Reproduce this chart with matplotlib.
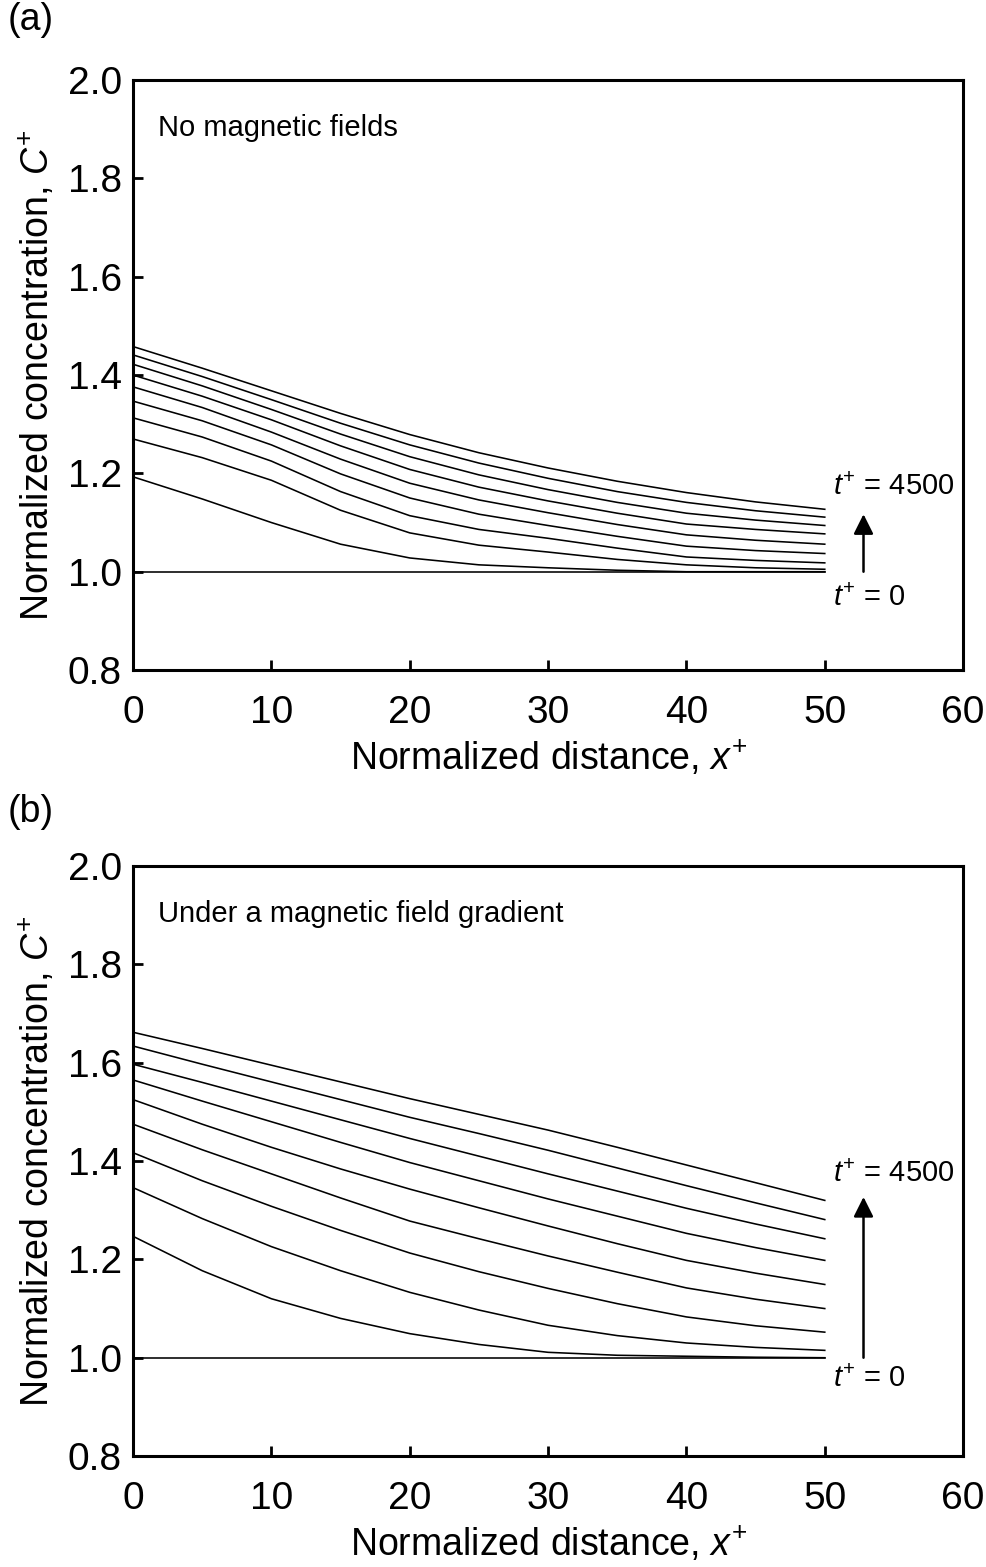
import numpy as np
import matplotlib
matplotlib.use("Agg")
import matplotlib.pyplot as plt

plt.rcParams['font.family'] = ['Liberation Sans', 'DejaVu Sans']
plt.rcParams['mathtext.fontset'] = 'custom'
plt.rcParams['mathtext.rm'] = 'Liberation Sans'
plt.rcParams['mathtext.it'] = 'Liberation Sans:italic'

# normalized time of each profile (t+ = 0 is the flat initial profile)
times = [0, 500, 1000, 1500, 2000, 2500, 3000, 3500, 4000, 4500]

# x+ positions where the profiles were read
x_pos = [0, 5, 10, 15, 20, 25, 30, 35, 40, 45, 50]

# (a) no magnetic fields, one row per time
conc_a = [
    [1.000, 1.000, 1.000, 1.000, 1.000, 1.000, 1.000, 1.000, 1.000, 1.000, 1.000],
    [1.193, 1.148, 1.100, 1.056, 1.028, 1.014, 1.008, 1.003, 1.000, 1.000, 1.000],
    [1.270, 1.232, 1.186, 1.125, 1.079, 1.054, 1.040, 1.025, 1.014, 1.008, 1.005],
    [1.313, 1.274, 1.225, 1.163, 1.114, 1.086, 1.068, 1.048, 1.030, 1.023, 1.018],
    [1.347, 1.307, 1.258, 1.199, 1.150, 1.117, 1.094, 1.072, 1.052, 1.043, 1.037],
    [1.376, 1.334, 1.284, 1.229, 1.180, 1.146, 1.120, 1.096, 1.075, 1.064, 1.056],
    [1.400, 1.357, 1.309, 1.256, 1.208, 1.172, 1.144, 1.119, 1.097, 1.086, 1.077],
    [1.422, 1.378, 1.330, 1.280, 1.234, 1.197, 1.167, 1.141, 1.119, 1.105, 1.094],
    [1.441, 1.397, 1.350, 1.302, 1.258, 1.221, 1.190, 1.163, 1.141, 1.124, 1.111],
    [1.458, 1.414, 1.368, 1.322, 1.279, 1.242, 1.211, 1.184, 1.161, 1.142, 1.127],
]

# (b) under a magnetic field gradient
conc_b = [
    [1.000, 1.000, 1.000, 1.000, 1.000, 1.000, 1.000, 1.000, 1.000, 1.000, 1.000],
    [1.247, 1.177, 1.120, 1.080, 1.049, 1.027, 1.011, 1.005, 1.003, 1.001, 1.000],
    [1.346, 1.283, 1.226, 1.177, 1.133, 1.097, 1.066, 1.045, 1.030, 1.021, 1.015],
    [1.417, 1.360, 1.308, 1.259, 1.213, 1.175, 1.141, 1.110, 1.083, 1.065, 1.052],
    [1.475, 1.423, 1.374, 1.325, 1.278, 1.242, 1.207, 1.174, 1.142, 1.119, 1.100],
    [1.525, 1.475, 1.428, 1.384, 1.343, 1.305, 1.268, 1.232, 1.198, 1.172, 1.149],
    [1.565, 1.522, 1.480, 1.438, 1.397, 1.360, 1.323, 1.288, 1.253, 1.224, 1.198],
    [1.597, 1.560, 1.522, 1.484, 1.446, 1.410, 1.374, 1.339, 1.304, 1.272, 1.242],
    [1.634, 1.597, 1.561, 1.525, 1.489, 1.456, 1.422, 1.386, 1.350, 1.315, 1.281],
    [1.662, 1.629, 1.595, 1.561, 1.527, 1.495, 1.463, 1.428, 1.392, 1.356, 1.320],
]

panels = [
    ("(a)", "No magnetic fields", conc_a, 0.5724, 0.987),
    ("(b)", "Under a magnetic field gradient", conc_b, 0.0708, 0.482),
]
# arrow (tail, tip) and label heights per panel, data units
arrow_y = [(1.0, 1.117), (1.0, 1.327)]
label_y = [(1.173, 0.946), (1.374, 0.957)]

fig = plt.figure(figsize=(9.87, 15.67), dpi=100)

for i, (tag, note, conc, bot, tag_y) in enumerate(panels):
    ax = fig.add_axes([0.1348, bot, 0.841, 0.3765])
    for row in conc:
        ax.plot(x_pos, row, color='black', lw=1.15)

    ax.set_xlim(0, 60)
    ax.set_ylim(0.8, 2.0)
    ax.set_xticks(np.arange(0, 61, 10))
    yt = np.arange(0.8, 2.01, 0.2)
    ax.set_yticks(yt)
    ax.set_yticklabels(["%.1f" % v for v in yt])
    ax.tick_params(direction='in', length=7, width=2, labelsize=28)
    ax.tick_params(axis='x', pad=18)
    ax.tick_params(axis='y', pad=8)
    for s in ax.spines.values():
        s.set_linewidth(2.2)

    ax.set_xlabel(r"Normalized distance, $\mathit{x}^{+}$", fontsize=27, labelpad=6)
    ax.set_ylabel(r"Normalized concentration, $\mathit{C}^{+}$", fontsize=27, labelpad=8)

    ax.text(1.8, 1.902, note, fontsize=21, va='center', ha='left')

    t0, t1 = arrow_y[i]
    ax.annotate("", xy=(52.8, t1), xytext=(52.8, t0),
                arrowprops=dict(arrowstyle='-|>', color='black', lw=1.8,
                                mutation_scale=30, shrinkA=0, shrinkB=0))
    ax.text(50.6, label_y[i][0], r"$\mathit{t}^{+}$ = %d" % times[-1],
            fontsize=21, va='center', ha='left')
    ax.text(50.6, label_y[i][1], r"$\mathit{t}^{+}$ = %d" % times[0],
            fontsize=21, va='center', ha='left')

    fig.text(0.008, tag_y, tag, fontsize=27, va='center', ha='left')

fig.savefig("out.png", dpi=100)
